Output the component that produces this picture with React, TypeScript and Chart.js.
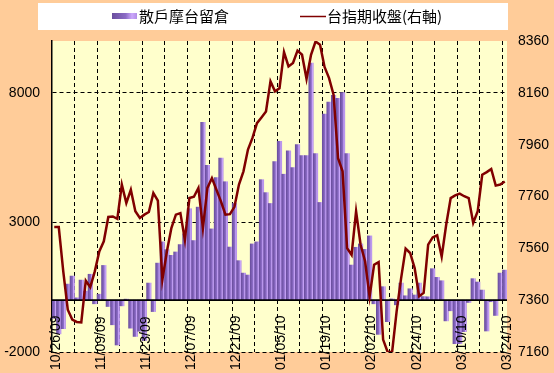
import React, { useEffect, useRef } from 'react';
import { Chart, registerables } from 'chart.js';

Chart.register(...registerables);

const DATES = [
  '10/26/09', '10/27/09', '10/28/09', '10/29/09', '10/30/09',
  '11/02/09', '11/03/09', '11/04/09', '11/05/09', '11/06/09',
  '11/09/09', '11/10/09', '11/11/09', '11/12/09', '11/13/09',
  '11/16/09', '11/17/09', '11/18/09', '11/19/09', '11/20/09',
  '11/23/09', '11/24/09', '11/25/09', '11/26/09', '11/27/09',
  '11/30/09', '12/01/09', '12/02/09', '12/03/09', '12/04/09',
  '12/07/09', '12/08/09', '12/09/09', '12/10/09', '12/11/09',
  '12/14/09', '12/15/09', '12/16/09', '12/17/09', '12/18/09',
  '12/21/09', '12/22/09', '12/23/09', '12/24/09', '12/25/09',
  '12/28/09', '12/29/09', '12/30/09', '12/31/09', '01/04/10',
  '01/05/10', '01/06/10', '01/07/10', '01/08/10', '01/11/10',
  '01/12/10', '01/13/10', '01/14/10', '01/15/10', '01/18/10',
  '01/19/10', '01/20/10', '01/21/10', '01/22/10', '01/25/10',
  '01/26/10', '01/27/10', '01/28/10', '01/29/10', '02/01/10',
  '02/02/10', '02/03/10', '02/04/10', '02/05/10', '02/08/10',
  '02/09/10', '02/10/10', '02/11/10', '02/22/10', '02/23/10',
  '02/24/10', '02/25/10', '02/26/10', '03/01/10', '03/02/10',
  '03/03/10', '03/04/10', '03/05/10', '03/08/10', '03/09/10',
  '03/10/10', '03/11/10', '03/12/10', '03/15/10', '03/16/10',
  '03/17/10', '03/18/10', '03/19/10', '03/22/10', '03/23/10',
  '03/24/10',
];

const RETAIL_OI = [
  -700, -1300, -1100, 620, 930, 90, 775, 350, 1000, -140,
  230, 1340, -245, -950, -1730, -220, 40, -1080, -1400, -1200,
  -1560, 660, -440, 1430, 2250, 1950, 1730, 1860, 2145, 2560,
  3530, 2300, 3590, 6860, 5200, 2750, 4730, 5480, 4570, 2050,
  3730, 1525, 1045, 970, 2170, 2250, 4650, 4150, 3730, 5350,
  6125, 4860, 5760, 5115, 6000, 5580, 5580, 9150, 5660, 3770,
  7180, 7640, 7900, 7790, 8010, 5660, 1355, 2040, 2170, 1960,
  2480, -140, -1320, 520, -830, 50, -180, 660, 170, 440,
  200, 660, 140, 130, 1215, 880, 750, -800, -410, -1680,
  -1680, -1215, -90, 830, 700, 390, -1190, -60, -590, 1045,
  1160,
];

const TX_CLOSE = [
  7642, 7642, 7471, 7323, 7285, 7276, 7274, 7435, 7410, 7471,
  7548, 7587, 7681, 7683, 7674, 7806, 7735, 7786, 7703, 7677,
  7690, 7700, 7773, 7744, 7439, 7548, 7638, 7690, 7696, 7593,
  7754, 7759, 7793, 7638, 7793, 7831, 7786, 7741, 7690, 7692,
  7720, 7806, 7857, 7941, 7986, 8043, 8065, 8088, 8204, 8166,
  8178, 8317, 8262, 8275, 8323, 8307, 8214, 8307, 8358, 8346,
  8260, 8217, 8153, 7908, 7857, 7561, 7535, 7703, 7574, 7510,
  7373, 7497, 7507, 7208, 7160, 7160, 7317, 7445, 7559, 7542,
  7484, 7375, 7388, 7574, 7602, 7610, 7528, 7651, 7754, 7764,
  7771, 7761, 7754, 7658, 7703, 7844, 7854, 7866, 7802, 7806,
  7818,
];

const LEFT_TICKS = [-2000, 3000, 8000];
const RIGHT_TICKS = [7160, 7360, 7560, 7760, 7960, 8160, 8360];
const LABEL_EVERY = 10;

const BAR_LABEL = '散戶摩台留倉';
const LINE_LABEL = '台指期收盤(右軸)';

const LINE_COLOR = '#800000';
const FONT_FAMILY = '"Liberation Sans", Arial, sans-serif';
const TICK_FONT = { family: FONT_FAMILY, size: 14 };

function makeBarGradient(c2d: CanvasRenderingContext2D, x0: number, x1: number) {
  const g = c2d.createLinearGradient(x0, 0, x1, 0);
  g.addColorStop(0, '#6A4E9E');
  g.addColorStop(0.55, '#8C6CC6');
  g.addColorStop(0.8, '#CCA8FC');
  g.addColorStop(1, '#B28EE6');
  return g;
}

const backgroundPlugin = {
  id: 'bgPlugin',
  beforeDraw(chart: any) {
    const { ctx, chartArea, width, height } = chart;
    ctx.save();
    ctx.fillStyle = '#FFCC99';
    ctx.fillRect(0, 0, width, height);
    ctx.fillStyle = '#FFFFCC';
    ctx.fillRect(chartArea.left, chartArea.top, chartArea.right - chartArea.left, chartArea.bottom - chartArea.top);
    ctx.fillStyle = '#FFFFFF';
    ctx.fillRect(38, 3, 470, 27);
    ctx.fillStyle = makeBarGradient(ctx, 112, 137);
    ctx.fillRect(112, 13, 25, 6);
    ctx.fillStyle = '#000';
    ctx.font = '15px "Noto Sans CJK TC", sans-serif';
    ctx.textBaseline = 'middle';
    ctx.textAlign = 'left';
    ctx.fillText(BAR_LABEL, 139, 16.5);
    ctx.strokeStyle = LINE_COLOR;
    ctx.lineWidth = 1.5;
    ctx.beginPath();
    ctx.moveTo(300, 16.5);
    ctx.lineTo(326, 16.5);
    ctx.stroke();
    ctx.fillText(LINE_LABEL, 327, 16.5);
    ctx.restore();
  },
};

const zeroLinePlugin = {
  id: 'zeroLine',
  afterDatasetDraw(chart: any, args: any) {
    if (args.index !== 1) return;
    const y = chart.scales.y.getPixelForValue(0);
    const { ctx, chartArea } = chart;
    ctx.save();
    ctx.strokeStyle = '#000';
    ctx.lineWidth = 1.6;
    ctx.beginPath();
    ctx.moveTo(chartArea.left, y);
    ctx.lineTo(chartArea.right, y);
    ctx.stroke();
    ctx.restore();
  },
};

// Date labels are drawn rotated, starting at the bottom edge and overlapping the plot
const dateLabelPlugin = {
  id: 'dateLabels',
  afterDatasetsDraw(chart: any) {
    const xs = chart.scales.x;
    const { ctx } = chart;
    ctx.save();
    ctx.fillStyle = '#000';
    ctx.font = `14px ${FONT_FAMILY}`;
    ctx.textAlign = 'left';
    ctx.textBaseline = 'middle';
    for (let i = 0; i < DATES.length; i += LABEL_EVERY) {
      const x = xs.getPixelForValue(i) + 2;
      ctx.save();
      ctx.translate(x, chart.height - 3);
      ctx.rotate(-Math.PI / 2);
      ctx.fillText(DATES[i], 0, 0);
      ctx.restore();
    }
    ctx.restore();
  },
};

export default function App() {
  const ref = useRef<HTMLCanvasElement | null>(null);

  useEffect(() => {
    document.body.style.margin = '0';
    const canvas = ref.current;
    if (!canvas) return;
    const chart = new Chart(canvas, {
      type: 'bar',
      data: {
        labels: DATES,
        datasets: [
          {
            type: 'line',
            label: LINE_LABEL,
            data: TX_CLOSE,
            yAxisID: 'y1',
            borderColor: LINE_COLOR,
            borderWidth: 2.5,
            pointRadius: 0,
            tension: 0,
            order: 0,
          } as any,
          {
            type: 'bar',
            label: BAR_LABEL,
            data: RETAIL_OI,
            yAxisID: 'y',
            barPercentage: 1,
            categoryPercentage: 1,
            borderWidth: 0,
            order: 1,
            backgroundColor: (c: any) => {
              const xs = c.chart.scales && c.chart.scales.x;
              if (!xs || c.dataIndex === undefined) return '#9977CC';
              const w = xs.width / DATES.length;
              const cx = xs.getPixelForValue(c.dataIndex);
              if (!Number.isFinite(w) || !Number.isFinite(cx) || w <= 0) return '#9977CC';
              return makeBarGradient(c.chart.ctx, cx - w / 2, cx + w / 2);
            },
          } as any,
        ],
      },
      options: {
        responsive: false,
        animation: false,
        layout: { padding: { top: 41, left: 0, right: 0, bottom: 0 } },
        plugins: {
          legend: { display: false },
          tooltip: { enabled: false },
        },
        scales: {
          x: {
            type: 'category',
            offset: true,
            grid: {
              offset: true,
              drawTicks: false,
              lineWidth: 1,
              color: (c: any) => (c.index > 0 && c.index % 5 === 0 && c.index < DATES.length ? '#000000' : 'rgba(0,0,0,0)'),
            },
            border: { display: false, dash: [4, 3] },
            ticks: { display: false, autoSkip: false },
            afterFit: (s: any) => {
              s.height = 21;
            },
          },
          y: {
            type: 'linear',
            position: 'left',
            min: -2000,
            max: 10000,
            afterBuildTicks: (s: any) => {
              s.ticks = LEFT_TICKS.map((v) => ({ value: v }));
            },
            grid: { color: '#000', lineWidth: 1, drawTicks: false },
            border: { display: true, color: '#000', width: 1.5, dash: [4, 3] },
            ticks: { padding: 12, color: '#000', font: TICK_FONT, callback: (v: any) => String(v) },
            afterFit: (s: any) => {
              s.width = 52;
            },
          },
          y1: {
            type: 'linear',
            position: 'right',
            min: 7160,
            max: 8360,
            afterBuildTicks: (s: any) => {
              s.ticks = RIGHT_TICKS.map((v) => ({ value: v }));
            },
            grid: { drawOnChartArea: false, drawTicks: false },
            border: { display: false },
            ticks: { padding: 11, color: '#000', font: TICK_FONT, callback: (v: any) => String(v) },
            afterFit: (s: any) => {
              s.width = 47;
            },
          },
        },
      },
      plugins: [backgroundPlugin, zeroLinePlugin, dateLabelPlugin],
    });
    return () => chart.destroy();
  }, []);

  return (
    <div style={{ position: 'fixed', left: 0, top: 0, width: 554, height: 373, background: '#FFCC99' }}>
      <canvas ref={ref} width={554} height={373} style={{ display: 'block', width: 554, height: 373 }} />
    </div>
  );
}
